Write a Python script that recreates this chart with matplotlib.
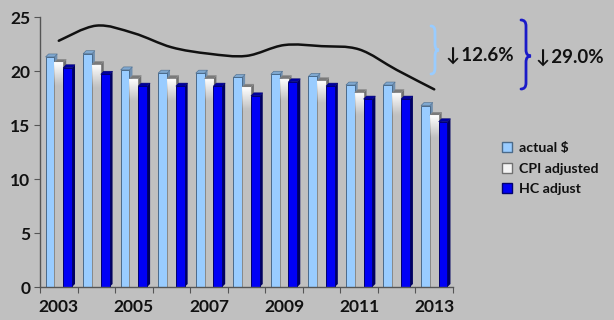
import numpy as np
import matplotlib
matplotlib.use("Agg")
import matplotlib.pyplot as plt
from matplotlib.patches import Polygon, Rectangle, Patch, PathPatch
from matplotlib.path import Path

years = ["2003", "2004", "2005", "2006", "2007", "2008", "2009", "2010", "2011", "2012", "2013"]
actual = [21.3, 21.6, 20.1, 19.8, 19.8, 19.4, 19.7, 19.5, 18.7, 18.7, 16.8]
cpi_adj = [20.8, 20.6, 19.3, 19.3, 19.3, 18.5, 19.3, 19.1, 18.0, 18.0, 15.9]
hc_adj = [20.3, 19.7, 18.6, 18.6, 18.6, 17.7, 19.0, 18.6, 17.4, 17.4, 15.3]
trend = [22.8, 24.2, 23.5, 22.2, 21.6, 21.4, 22.4, 22.3, 22.0, 20.1, 18.3]
series_labels = ["actual $", "CPI adjusted", "HC adjust"]
notes = ["\u2193\u200a12.6%", "\u2193\u200a29.0%"]
year_tick_labels = ["2003", "2005", "2007", "2009", "2011", "2013"]

BG = "#C0C0C0"
W, H = 614, 320
fig = plt.figure(figsize=(W / 100, H / 100), dpi=100, facecolor=BG)
ax_l, ax_r, ax_t, ax_b = 40, 453, 17, 287
ax = fig.add_axes([ax_l / W, (H - ax_b) / H, (ax_r - ax_l) / W, (ax_b - ax_t) / H])
ax.set_facecolor(BG)

n = len(years)
x = np.arange(n)
ax.set_xlim(-0.5, n - 0.5)
ax.set_ylim(0, 25)

# depth offsets for pseudo-3D bars (3 px each way)
px_x = (ax_r - ax_l) / n
px_y = (ax_b - ax_t) / 25
dx = 3 / px_x
dy = 3 / px_y

bw = 0.235
offsets = [-0.235, 0.0, 0.235]
front_cols = ["#99CCFF", BG, "#0000F5"]
edge_cols = ["#4A6A8A", "#8A8A8A", "#000070"]
top_cols = ["#7FA8D0", "#7A7A7A", "#0000A0"]
side_cols = ["#6F8FB0", "#707070", "#000060"]
data = [actual, cpi_adj, hc_adj]

z = 2
for i in range(n):
    for k in range(3):
        h = data[k][i]
        x0 = x[i] + offsets[k] - bw / 2
        x1 = x0 + bw
        ax.add_patch(Polygon([[x1, 0], [x1 + dx, dy], [x1 + dx, h + dy], [x1, h]],
                             closed=True, facecolor=side_cols[k], edgecolor="none", zorder=z))
        ax.add_patch(Polygon([[x0, h], [x0 + dx, h + dy], [x1 + dx, h + dy], [x1, h]],
                             closed=True, facecolor=top_cols[k], edgecolor=edge_cols[k], lw=0.4, zorder=z + 0.1))
        rect = Rectangle((x0, 0), bw, h, facecolor=front_cols[k], edgecolor=edge_cols[k], lw=0.7, zorder=z + 0.2)
        ax.add_patch(rect)
        if k == 1:
            grad = np.zeros((60, 1, 4))
            grad[..., :3] = 1.0
            frac = np.linspace(1, 0, 60)
            span = 2.0 / h
            alpha = np.clip((frac - (1 - span)) / span, 0, 1) * 0.95
            grad[:, 0, 3] = alpha
            im = ax.imshow(grad, extent=(x0, x1, 0, h), aspect="auto", zorder=z + 0.25,
                           interpolation="bilinear")
            im.set_clip_path(rect)
        z += 1

ax.set_xlim(-0.5, n - 0.5)
ax.set_ylim(0, 25)

# smoothed trend line through the data points (Bezier rendering)
pts = np.column_stack([x, trend]).astype(float)
verts = [tuple(pts[0])]
codes = [Path.MOVETO]
t = 1 / 6
for i in range(n - 1):
    p0 = pts[max(i - 1, 0)]
    p1 = pts[i]
    p2 = pts[i + 1]
    p3 = pts[min(i + 2, n - 1)]
    c1 = p1 + (p2 - p0) * t
    c2 = p2 - (p3 - p1) * t
    verts += [tuple(c1), tuple(c2), tuple(p2)]
    codes += [Path.CURVE4] * 3
ax.add_patch(PathPatch(Path(verts, codes), facecolor="none", edgecolor="#111111",
                       lw=1.8, zorder=100, capstyle="round"))

for s in ["top", "right"]:
    ax.spines[s].set_visible(False)
for s in ["left", "bottom"]:
    ax.spines[s].set_color("#555555")
    ax.spines[s].set_linewidth(1.0)
    ax.spines[s].set_zorder(200)

font = ["Lato", "DejaVu Sans"]
ax.set_yticks(np.arange(0, 26, 5))
ax.set_yticklabels([str(v) for v in range(0, 26, 5)], fontsize=12.5, fontweight="bold",
                   family=font, color="#111111")
ax.tick_params(axis="y", direction="out", length=4, color="#555555", pad=3)
ax.set_xticks(np.arange(-0.5, n, 1.0))
ax.set_xticklabels([])
ax.tick_params(axis="x", which="major", direction="out", length=4, color="#555555")
ax.set_xticks(x[::2], minor=True)
ax.set_xticklabels(year_tick_labels, minor=True, fontsize=12.5, fontweight="bold",
                   family=font, color="#111111")
ax.tick_params(axis="x", which="minor", length=0, pad=9)

handles = [Patch(facecolor=front_cols[0], edgecolor="#4A6A8A"),
           Patch(facecolor="#F4F4F4", edgecolor="#707070"),
           Patch(facecolor="#0000F5", edgecolor="#000070")]
leg = fig.legend(handles, series_labels, loc="upper left",
                 bbox_to_anchor=(489 / W, 1 - 129 / H), frameon=False,
                 prop={"family": font, "weight": "bold", "size": 10.2},
                 handlelength=0.7, handleheight=0.7, handletextpad=0.55, labelspacing=0.62)
for t_ in leg.get_texts():
    t_.set_color("#111111")


def brace(xp, ytop, ybot, ymid, w, color, lw):
    X = lambda v: v / W
    Y = lambda v: 1 - v / H
    q = 6
    xm = xp + w / 2
    vv = [(xp, ytop), (xm, ytop), (xm, ytop + q),
          (xm, ymid - q),
          (xm, ymid), (xp + w, ymid),
          (xm, ymid), (xm, ymid + q),
          (xm, ybot - q),
          (xm, ybot), (xp, ybot)]
    cc = [Path.MOVETO, Path.CURVE3, Path.CURVE3, Path.LINETO, Path.CURVE3, Path.CURVE3,
          Path.CURVE3, Path.CURVE3, Path.LINETO, Path.CURVE3, Path.CURVE3]
    vv = [(X(a), Y(b)) for a, b in vv]
    fig.add_artist(PathPatch(Path(vv, cc), transform=fig.transFigure, facecolor="none",
                             edgecolor=color, lw=lw, capstyle="round"))


brace(431, 26, 74, 50, 8, "#99CCFF", 2.0)
brace(521, 20, 89, 56, 10, "#1A1AC8", 2.0)
fig.text(446 / W, 1 - 55 / H, notes[0], fontsize=13.5, fontweight="bold", family=font,
         color="#111111", va="center", ha="left")
fig.text(536 / W, 1 - 57 / H, notes[1], fontsize=13.5, fontweight="bold", family=font,
         color="#111111", va="center", ha="left")

fig.savefig("out.png", dpi=100, facecolor=BG)
